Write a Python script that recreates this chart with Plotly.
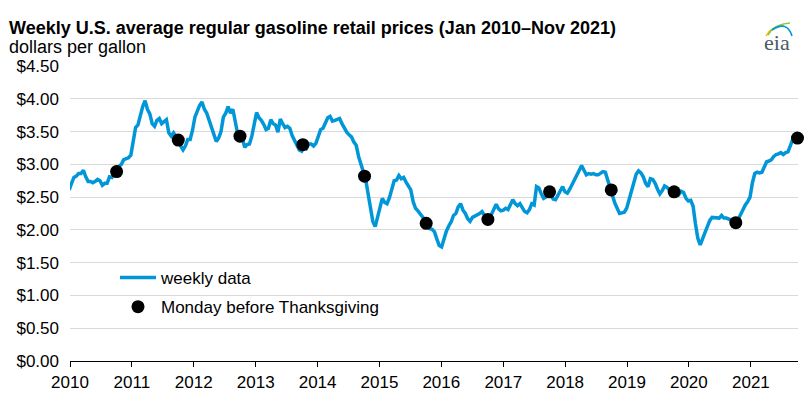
import pandas as pd
import plotly.graph_objects as go

# ---- data ----
# regular gasoline retail price, $/gal, sampled every two weeks starting Mon 2010-01-04
price = [
    # 2010
    2.66, 2.76, 2.66, 2.61, 2.71, 2.80, 2.82, 2.86, 2.86, 2.91, 2.81, 2.74, 2.74,
    2.72, 2.74, 2.77, 2.75, 2.68, 2.71, 2.71, 2.81, 2.80, 2.87, 2.88, 2.97, 3.00,
    # 2011
    3.07, 3.09, 3.10, 3.14, 3.38, 3.56, 3.60, 3.77, 3.88, 3.97, 3.84, 3.77, 3.62,
    3.58, 3.67, 3.70, 3.62, 3.65, 3.68, 3.48, 3.43, 3.48, 3.43, 3.37, 3.28, 3.22,
    # 2012
    3.28, 3.38, 3.38, 3.52, 3.72, 3.83, 3.90, 3.95, 3.84, 3.78, 3.67, 3.56, 3.47, 3.35,
    3.40, 3.50, 3.72, 3.78, 3.88, 3.78, 3.84, 3.68, 3.47, 3.43, 3.40, 3.26, 3.30,
    # 2013
    3.31, 3.43, 3.61, 3.79, 3.71, 3.67, 3.61, 3.53, 3.55, 3.68, 3.62, 3.60, 3.49,
    3.69, 3.62, 3.56, 3.58, 3.55, 3.44, 3.36, 3.30, 3.22, 3.20, 3.27, 3.24, 3.31,
    # 2014
    3.31, 3.28, 3.32, 3.44, 3.53, 3.55, 3.62, 3.71, 3.73, 3.66, 3.67, 3.69, 3.70,
    3.62, 3.54, 3.49, 3.45, 3.42, 3.34, 3.29, 3.12, 2.99, 2.89, 2.77, 2.55, 2.30,
    # 2015
    2.13, 2.05, 2.19, 2.31, 2.48, 2.42, 2.40, 2.49, 2.64, 2.75, 2.76, 2.83, 2.78,
    2.80, 2.73, 2.66, 2.61, 2.43, 2.33, 2.29, 2.24, 2.20, 2.15, 2.06, 2.02, 2.01,
    # 2016
    1.97, 1.86, 1.76, 1.74, 1.88, 1.98, 2.06, 2.12, 2.22, 2.25, 2.35, 2.40, 2.30,
    2.25, 2.17, 2.13, 2.19, 2.21, 2.22, 2.25, 2.28, 2.22, 2.17, 2.16, 2.23, 2.30,
    # 2017
    2.39, 2.32, 2.29, 2.30, 2.33, 2.31, 2.38, 2.46, 2.40, 2.37, 2.40, 2.35, 2.28,
    2.26, 2.31, 2.40, 2.38, 2.66, 2.64, 2.55, 2.48, 2.50, 2.58, 2.55, 2.47, 2.46,
    # 2018
    2.53, 2.58, 2.66, 2.58, 2.56, 2.62, 2.69, 2.78, 2.84, 2.92, 2.98, 2.91, 2.84,
    2.86, 2.85, 2.86, 2.84, 2.84, 2.86, 2.89, 2.88, 2.76, 2.65, 2.56, 2.41, 2.33,
    # 2019
    2.25, 2.26, 2.27, 2.33, 2.45, 2.57, 2.72, 2.85, 2.90, 2.87, 2.81, 2.71, 2.66,
    2.78, 2.77, 2.71, 2.62, 2.55, 2.60, 2.67, 2.65, 2.61, 2.60, 2.58, 2.58, 2.54,
    # 2020
    2.59, 2.57, 2.48, 2.44, 2.45, 2.36, 2.09, 1.87, 1.77, 1.85, 1.96, 2.05, 2.14,
    2.19, 2.19, 2.18, 2.18, 2.22, 2.18, 2.18, 2.16, 2.15, 2.11, 2.11, 2.16, 2.24,
    # 2021
    2.30, 2.38, 2.43, 2.50, 2.72, 2.86, 2.88, 2.87, 2.88, 2.97, 3.04, 3.05,
    3.07, 3.12, 3.15, 3.16, 3.18, 3.15, 3.18, 3.19, 3.27, 3.38, 3.42, 3.40,
]
price_dates = pd.date_range("2010-01-04", periods=len(price), freq="14D")

thanksgiving_mondays = [
    "2010-11-22", "2011-11-21", "2012-11-19", "2013-11-25", "2014-11-24", "2015-11-23",
    "2016-11-21", "2017-11-20", "2018-11-19", "2019-11-25", "2020-11-23", "2021-11-22",
]
thanksgiving_prices = [2.89, 3.37, 3.43, 3.30, 2.82, 2.10, 2.16, 2.58, 2.61, 2.58, 2.11, 3.40]

years = list(range(2010, 2022))
year_tick_positions = [f"{y}-02-20" for y in years]
year_tick_labels = [str(y) for y in years]

y_ticks = [0, 0.5, 1.0, 1.5, 2.0, 2.5, 3.0, 3.5, 4.0, 4.5]
y_tick_labels = ["$0.00", "$0.50", "$1.00", "$1.50", "$2.00",
                 "$2.50", "$3.00", "$3.50", "$4.00", "$4.50"]

# ---- figure ----
W, H = 804, 408
ML, MR, MT, MB = 70, 6, 66, 47
PW, PH = W - ML - MR, H - MT - MB


def px(x):
    return (x - ML) / PW


def py(y):
    return (H - MB - y) / PH


FONT = "Liberation Sans, Arial, sans-serif"
BLUE = "#0096d7"

fig = go.Figure()
fig.add_trace(go.Scatter(
    x=price_dates, y=price, mode="lines", name="weekly data", legendgroup="a",
    line=dict(color=BLUE, width=3.5), hoverinfo="skip",
))
fig.add_trace(go.Scatter(
    x=thanksgiving_mondays, y=thanksgiving_prices, mode="markers",
    name="Monday before Thanksgiving", legendgroup="b",
    marker=dict(color="black", size=13), cliponaxis=False,
))

fig.update_layout(
    width=W, height=H,
    margin=dict(l=ML, r=MR, t=MT, b=MB),
    paper_bgcolor="white", plot_bgcolor="white",
    font=dict(family=FONT, size=17, color="black"),
    showlegend=True,
    legend=dict(
        x=px(115), y=py(260), xanchor="left", yanchor="top",
        bgcolor="rgba(0,0,0,0)", borderwidth=0,
        font=dict(family=FONT, size=17, color="black"),
        tracegroupgap=4, itemwidth=36,
    ),
    xaxis=dict(
        type="date",
        range=["2010-02-20", "2021-11-25"],
        tickmode="array", tickvals=year_tick_positions, ticktext=year_tick_labels,
        showgrid=False, showline=True, linecolor="black", linewidth=1.3,
        ticks="outside", ticklen=5, tickwidth=1.3, tickcolor="black",
        tickfont=dict(family=FONT, size=17, color="black"),
        zeroline=False,
    ),
    yaxis=dict(
        range=[0, 4.5],
        tickmode="array", tickvals=y_ticks, ticktext=y_tick_labels,
        showgrid=True, gridcolor="#d9d9d9", gridwidth=1.3,
        showline=False, zeroline=False, ticks="", ticklabelstandoff=10,
        tickfont=dict(family=FONT, size=17, color="black"),
    ),
    annotations=[
        dict(text="<b>Weekly U.S. average regular gasoline retail prices (Jan 2010\u2013Nov 2021)</b>",
             xref="paper", yref="paper", x=px(7), y=py(28), xanchor="left", yanchor="middle",
             showarrow=False, font=dict(family=FONT, size=18, color="black")),
        dict(text="dollars per gallon",
             xref="paper", yref="paper", x=px(7), y=py(47), xanchor="left", yanchor="middle",
             showarrow=False, font=dict(family=FONT, size=18, color="black")),
        dict(text="eia",
             xref="paper", yref="paper", x=px(777), y=py(43), xanchor="center", yanchor="middle",
             showarrow=False, font=dict(family="Liberation Serif, DejaVu Serif, serif", size=22, color="#4d5b66")),
    ],
    shapes=[
        dict(type="path", xref="paper", yref="paper", layer="above",
             path=f"M {px(766)},{py(36)} Q {px(770)},{py(27)} {px(784)},{py(25)}",
             line=dict(color="#f3c300", width=1.6)),
        dict(type="path", xref="paper", yref="paper", layer="above",
             path=f"M {px(768)},{py(35)} Q {px(774)},{py(24)} {px(790)},{py(23)}",
             line=dict(color="#8cc63f", width=1.6)),
        dict(type="path", xref="paper", yref="paper", layer="above",
             path=f"M {px(772)},{py(30)} Q {px(787)},{py(20)} {px(792)},{py(36)}",
             line=dict(color="#0096d7", width=1.6)),
    ],
)

fig.write_html("out.html")
